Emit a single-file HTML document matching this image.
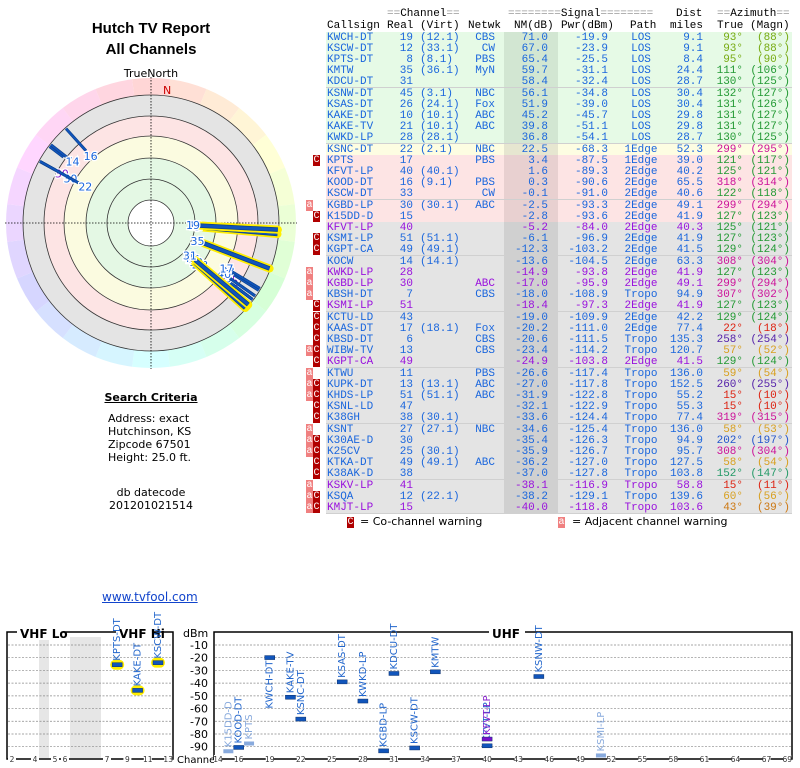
<!DOCTYPE html>
<html><head><meta charset="utf-8">
<style>
body{margin:0;width:800px;height:768px;background:#fff;position:relative;overflow:hidden;font-family:"DejaVu Sans","Liberation Sans",sans-serif;}
.abs{position:absolute;white-space:nowrap;}
.mono{font-family:"Liberation Mono",monospace;font-size:11px;line-height:11px;}
.row{position:absolute;left:326px;width:466px;height:11px;border-bottom:1px solid #d0d0d0;}
.c{position:absolute;top:0;white-space:nowrap;}
.r{text-align:right;}
.ic{position:absolute;width:7px;height:11px;color:#fff;font-family:"Liberation Mono",monospace;font-size:10px;line-height:11px;text-align:center;}
.ttl{font-family:"Liberation Sans",Arial,sans-serif;font-weight:bold;font-size:15px;}
</style></head><body>
<svg id="gfx" width="800" height="768" style="position:absolute;left:0;top:0" xmlns="http://www.w3.org/2000/svg"></svg>

<div class="abs ttl" style="left:0;width:302px;top:20px;text-align:center;">Hutch TV Report</div>
<div class="abs ttl" style="left:0;width:302px;top:41px;text-align:center;">All Channels</div>
<div class="abs" style="left:0;width:302px;top:67px;text-align:center;font-size:11px;">TrueNorth</div>

<div class="abs" style="left:0;width:302px;top:391px;text-align:center;font-weight:bold;font-size:11px;text-decoration:underline;">Search Criteria</div>
<div class="abs" style="left:108px;top:412px;font-size:11px;line-height:13px;">Address: exact<br>Hutchinson, KS<br>Zipcode 67501<br>Height: 25.0 ft.</div>
<div class="abs" style="left:0;width:302px;top:486px;text-align:center;font-size:11px;line-height:13px;">db datecode<br>201201021514</div>
<div class="abs" style="left:102px;top:590px;font-size:12px;color:#1144cc;text-decoration:underline;">www.tvfool.com</div>

<div class="abs mono" style="left:0;top:9px;">
<span class="abs" style="left:387px;top:0"><span style="color:#999">==</span>Channel<span style="color:#999">==</span></span>
<span class="abs" style="left:508px;top:0"><span style="color:#999">========</span>Signal<span style="color:#999">========</span></span>
<span class="abs" style="left:676px;top:0">Dist</span>
<span class="abs" style="left:717px;top:0"><span style="color:#999">==</span>Azimuth<span style="color:#999">==</span></span>
</div>
<div class="abs mono" style="left:0;top:21px;text-decoration:underline;">
<span class="abs" style="left:327px">Callsign</span><span class="abs" style="left:387px">Real</span><span class="abs" style="left:420px">(Virt)</span><span class="abs" style="left:468px">Netwk</span><span class="abs" style="left:514px">NM(dB)</span><span class="abs" style="left:561px">Pwr(dBm)</span><span class="abs" style="left:630px">Path</span><span class="abs" style="left:670px">miles</span><span class="abs" style="left:717px">True</span><span class="abs" style="left:750px">(Magn)</span>
</div>
<div id="tbl"></div>

<div class="ic" style="left:347px;top:517px;background:#b00000">C</div>
<div class="abs" style="left:360px;top:515px;font-size:11px;">= Co-channel warning</div>
<div class="ic" style="left:558px;top:517px;background:#f08080">a</div>
<div class="abs" style="left:572px;top:515px;font-size:11px;">= Adjacent channel warning</div>

<script>
const calls=["KWCH-DT","KSCW-DT","KPTS-DT","KMTW","KDCU-DT","KSNW-DT","KSAS-DT","KAKE-DT","KAKE-TV","KWKD-LP","KSNC-DT","KPTS","KFVT-LP","KOOD-DT","KSCW-DT","KGBD-LP","K15DD-D","KFVT-LP","KSMI-LP","KGPT-CA","KOCW","KWKD-LP","KGBD-LP","KBSH-DT","KSMI-LP","KCTU-LD","KAAS-DT","KBSD-DT","WIBW-TV","KGPT-CA","KTWU","KUPK-DT","KHDS-LP","KSNL-LD","K38GH","KSNT","K30AE-D","K25CV","KTKA-DT","K38AK-D","KSKV-LP","KSQA","KMJT-LP"];
const reals=[19,12,8,35,31,45,26,10,21,28,22,17,40,16,33,30,15,40,51,49,14,28,30,7,51,43,17,6,13,49,11,13,51,47,38,27,30,25,49,38,41,12,15];
const virts=["(12.1)","(33.1)","(8.1)","(36.1)","","(3.1)","(24.1)","(10.1)","(10.1)","(28.1)","(2.1)","","(40.1)","(9.1)","","(30.1)","","","(51.1)","(49.1)","(14.1)","","","","","","(18.1)","","","","","(13.1)","(51.1)","","(30.1)","(27.1)","","(30.1)","(49.1)","","","(22.1)",""];
const nets=["CBS","CW","PBS","MyN","","NBC","Fox","ABC","ABC","","NBC","PBS","","PBS","CW","ABC","","","","","","","ABC","CBS","","","Fox","CBS","CBS","","PBS","ABC","ABC","","","NBC","","","ABC","","","",""];
const nms=[71.0,67.0,65.4,59.7,58.4,56.1,51.9,45.2,39.8,36.8,22.5,3.4,1.6,0.3,-0.1,-2.5,-2.8,-5.2,-6.1,-12.3,-13.6,-14.9,-17.0,-18.0,-18.4,-19.0,-20.2,-20.6,-23.4,-24.9,-26.6,-27.0,-31.9,-32.1,-33.6,-34.6,-35.4,-35.9,-36.2,-37.0,-38.1,-38.2,-40.0];
const pwrs=[-19.9,-23.9,-25.5,-31.1,-32.4,-34.8,-39.0,-45.7,-51.1,-54.1,-68.3,-87.5,-89.3,-90.6,-91.0,-93.3,-93.6,-84.0,-96.9,-103.2,-104.5,-93.8,-95.9,-108.9,-97.3,-109.9,-111.0,-111.5,-114.2,-103.8,-117.4,-117.8,-122.8,-122.9,-124.4,-125.4,-126.3,-126.7,-127.0,-127.8,-116.9,-129.1,-118.8];
const paths=["LOS","LOS","LOS","LOS","LOS","LOS","LOS","LOS","LOS","LOS","1Edge","1Edge","2Edge","2Edge","2Edge","2Edge","2Edge","2Edge","2Edge","2Edge","2Edge","2Edge","2Edge","Tropo","2Edge","2Edge","2Edge","Tropo","Tropo","2Edge","Tropo","Tropo","Tropo","Tropo","Tropo","Tropo","Tropo","Tropo","Tropo","Tropo","Tropo","Tropo","Tropo"];
const dists=[9.1,9.1,8.4,24.4,28.7,30.4,30.4,29.8,29.8,28.7,52.3,39.0,40.2,65.5,40.6,49.1,41.9,40.3,41.9,41.5,63.3,41.9,49.1,94.9,41.9,42.2,77.4,135.3,120.7,41.5,136.0,152.5,55.2,55.3,77.4,136.0,94.9,95.7,127.5,103.8,58.8,139.6,103.6];
const trues=[93,93,95,111,130,132,131,131,131,130,299,121,125,318,122,299,127,125,127,129,308,127,299,307,127,129,22,258,57,129,59,260,15,15,319,58,202,308,58,152,15,60,43];
const magns=[88,88,90,106,125,127,126,127,127,125,295,117,121,314,118,294,123,121,123,124,304,123,294,302,123,124,18,254,52,124,54,255,10,10,315,53,197,304,54,147,11,56,39];
const purple=[0,0,0,0,0,0,0,0,0,0,0,0,0,0,0,0,0,1,0,0,0,1,1,0,1,0,0,0,0,1,0,0,0,0,0,0,0,0,0,0,1,0,1];
const warns=["","","","","","","","","","","","C","","","","a","C","","C","C","","a","a","a","C","C","C","C","aC","C","a","aC","aC","C","C","a","aC","aC","C","C","a","aC","aC"];

const tbl=document.getElementById('tbl');
function bgOf(p,i){if(p==="LOS")return["#e6fae6","#d2e6d2"];if(i===10)return["#fdfde2","#e6e6d0"];if(i<17)return["#fde4e4","#e8d0d0"];return["#e4e4e4","#d0d0d0"];}
function azCol(a){if(a<=25)return"#dd2211";if(a<50)return"#cc7711";if(a<70)return"#d8a020";if(a<100)return"#77aa11";if(a<145)return"#229933";if(a<180)return"#229966";if(a<230)return"#2255cc";if(a<290)return"#5522aa";return"#cc1199";}
function cell(row,txt,left,w,right,color){const s=document.createElement('span');s.className='c mono'+(right?' r':'');s.textContent=txt;s.style.left=left+'px';s.style.width=w+'px';s.style.top='0';s.style.lineHeight='12px';s.style.color=color;row.appendChild(s);return s;}
for(let i=0;i<calls.length;i++){
  const top=31.5+i*11.2;const bg=bgOf(paths[i],i);
  const row=document.createElement('div');row.className='row';row.style.top=top+'px';row.style.background=bg[0];
  
  
  const sh=document.createElement('div');sh.style.cssText='position:absolute;left:178px;width:54px;top:0;height:11px;background:'+bg[1];row.appendChild(sh);
  const col=purple[i]?"#9911dd":"#1a66dd";const az=azCol(trues[i]);
  cell(row,calls[i],1,60,false,col);
  cell(row,String(reals[i]),50,37,true,col);
  cell(row,virts[i],94,45,false,col);
  cell(row,nets[i],130,39,true,col);
  cell(row,nms[i].toFixed(1),180,42,true,col);
  cell(row,pwrs[i].toFixed(1),230,52,true,col);
  cell(row,paths[i],290,50,false,col).style.textAlign='center';
  cell(row,dists[i].toFixed(1),330,47,true,col);
  cell(row,trues[i]+"°",380,37,true,az);
  cell(row,"("+magns[i]+"°)",420,44,true,az);
  tbl.appendChild(row);
  const w=warns[i];
  if(w.indexOf('a')>=0){const d=document.createElement('div');d.className='ic';d.style.left='306px';d.style.top=top+'px';d.style.background='#f08080';d.textContent='a';
    
    
    tbl.appendChild(d);}
  if(w.indexOf('C')>=0){const d=document.createElement('div');d.className='ic';d.style.left='313px';d.style.top=top+'px';d.style.background='#b00000';d.textContent='C';
    
    
    tbl.appendChild(d);}
}

/* ---------- graphics ---------- */
const NS="http://www.w3.org/2000/svg";const svg=document.getElementById('gfx');
function el(tag,attrs,parent){const e=document.createElementNS(NS,tag);for(const k in attrs)e.setAttribute(k,attrs[k]);(parent||svg).appendChild(e);return e;}

/* polar plot */
const cx=151,cy=223;
function pp(a,r){const t=a*Math.PI/180;return[cx+r*Math.sin(t),cy-r*Math.cos(t)];}
for(let a=0;a<360;a+=15){
  const p1=pp(a-7.5,145),p2=pp(a+7.5,145),p3=pp(a+7.5,128),p4=pp(a-7.5,128);
  const s=el('path',{d:`M${p1}A145 145 0 0 1 ${p2}L${p3}A128 128 0 0 0 ${p4}Z`,fill:`hsl(${a},100%,92%)`});
  
  
}
const bands=[[128,"#e4e4e4"],[107,"#fde4e4"],[87,"#fbfbe0"],[65,"#e4f8e4"],[23,"#ffffff"]];
bands.forEach(b=>{const c=el('circle',{cx,cy,r:b[0],fill:b[1]});});
[23,44,65,87,107,128].forEach(r=>{const c=el('circle',{cx,cy,r,fill:'none',stroke:'#333','stroke-width':0.8});});
el('line',{x1:cx-146,y1:cy,x2:cx+146,y2:cy,stroke:'#000','stroke-dasharray':'1.5 1.5','stroke-width':0.8});
el('line',{x1:cx,y1:cy-146,x2:cx,y2:cy+146,stroke:'#000','stroke-dasharray':'1.5 1.5','stroke-width':0.8});
const nl=el('text',{x:163,y:94,fill:'#cc0000','font-size':11,'font-family':'DejaVu Sans,sans-serif'});nl.textContent='N';


for(let i=calls.length-1;i>=0;i--){
  if(nms[i]<-18.5)continue;
  const len=Math.max(6,(nms[i]+45)*0.68);const r0=128-len,r1=127;
  const a=trues[i];const p0=pp(a,r0),p1=pp(a,r1);
  const col=purple[i]?"#8822cc":"#1155bb";
  const strong=nms[i]>30;
  if(nms[i]>40){el('line',{x1:p0[0],y1:p0[1],x2:p1[0],y2:p1[1],stroke:'#ffee00','stroke-width':8,'stroke-linecap':'round'});}
  const ln=el('line',{x1:p0[0],y1:p0[1],x2:p1[0],y2:p1[1],stroke:'#0a3f8a','stroke-width':strong?4.5:3});
  
  
  el('line',{x1:p0[0],y1:p0[1],x2:p1[0],y2:p1[1],stroke:col,'stroke-width':strong?3:1.8});
  const lp=pp(a,r0-7);
  const t=el('text',{x:lp[0],y:lp[1]+4,fill:purple[i]?"#8822cc":"#1a66dd",'font-size':11,'text-anchor':'middle','font-family':'DejaVu Sans,sans-serif',stroke:'#fff','stroke-width':2.5,'paint-order':'stroke'});
  t.textContent=String(reals[i]);
  
  
}

/* spectrum chart */
const dbTicks=[-10,-20,-30,-40,-50,-60,-70,-80,-90];
const vhfTicks=[2,4,5,6,7,9,11,13];
const uhfTicks=[14,16,19,22,25,28,31,34,37,40,43,46,49,52,55,58,61,64,67,69];
function yOf(d){return 645+(-10-d)*1.271;}
function vx(ch){if(ch<=4)return 12+(ch-2)*11.5;if(ch<=6)return 55+(ch-5)*10;return 107+(ch-7)*10.2;}
function ux(ch){return 218+(ch-14)*10.35;}
const F='DejaVu Sans,Liberation Sans,sans-serif';
el('rect',{x:39,y:637,width:10,height:121,fill:'#e6e6e6'});
el('rect',{x:70,y:637,width:31,height:121,fill:'#e6e6e6'});
dbTicks.forEach(d=>{
  el('line',{x1:8,x2:172,y1:yOf(d),y2:yOf(d),stroke:'#888','stroke-dasharray':'2 1.5','stroke-width':0.7});
  el('line',{x1:215,x2:791,y1:yOf(d),y2:yOf(d),stroke:'#888','stroke-dasharray':'2 1.5','stroke-width':0.7});
  const t=el('text',{x:208,y:yOf(d)+4,'text-anchor':'end','font-size':11,'font-family':F});t.textContent=String(d);
  
  
});
const f1=el('rect',{x:7,y:632,width:166,height:127,fill:'none',stroke:'#000','stroke-width':1.5});

const f2=el('rect',{x:214,y:632,width:578,height:127,fill:'none',stroke:'#000','stroke-width':1.5});

function titleTxt(x,y,s,w,name){el('rect',{x:x-3,y:y-9,width:w,height:12,fill:'#fff'});const t=el('text',{x,y:y+1,'font-size':12,'font-weight':'bold','font-family':F});t.textContent=s;}
titleTxt(20,637,'VHF Lo',46,'vhf-lo-title');titleTxt(119,637,'VHF Hi',38,'vhf-hi-title');titleTxt(492,637,'UHF',36,'uhf-title');
const dt=el('text',{x:183,y:637,'font-size':11,'font-family':F});dt.textContent='dBm';
const ct=el('text',{x:177,y:763,'font-size':10,'font-family':F});ct.textContent='Channel';
function tick(x,s){el('rect',{x:x-4,y:755,width:8,height:9,fill:'#fff'});const t=el('text',{x,y:762,'font-size':7.5,'text-anchor':'middle','font-family':F,fill:'#333'});t.textContent=s;}
vhfTicks.forEach(c=>tick(vx(c),String(c)));uhfTicks.forEach(c=>tick(ux(c),String(c)));
// marks: best entry per channel, plus stronger later entries
const best={};
for(let i=0;i<calls.length;i++){
  if(pwrs[i]<-100)continue;
  const ch=reals[i];
  if(best[ch]!==undefined&&pwrs[i]<=best[ch])continue;
  const first=best[ch]===undefined;best[ch]=pwrs[i];
  const x=ch<=13?vx(ch):ux(ch);const y=yOf(pwrs[i]);
  const light=warns[i].indexOf('C')>=0;
  const col=purple[i]?"#7711cc":(light?"#88aadd":"#1155bb");
  if(ch<=13)el('rect',{x:x-7,y:y-5,width:14,height:10,rx:5,fill:'#ffee00'});
  const b=el('rect',{x:x-5,y:y-2,width:10,height:4,fill:col,stroke:light?"none":"#0a2f6a",'stroke-width':0.5});
  
  
  if(!first&&!purple[i])continue;
  const lc=light?"#88aadd":(purple[i]?"#8822cc":"#2266cc");
  const below=y<662;const ly=below?y+51:y-4;
  const t=el('text',{x:x+3,y:ly,transform:`rotate(-90 ${x+3} ${ly})`,'font-size':10,fill:lc,'font-family':F});
  t.textContent=calls[i];
  
  
}
</script>
</body></html>
